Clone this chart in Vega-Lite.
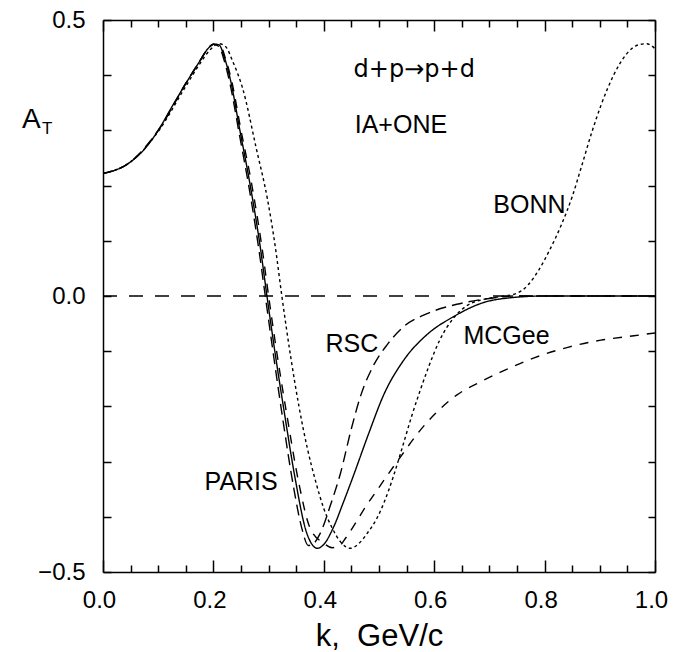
{
  "$schema": "https://vega.github.io/schema/vega-lite/v6.json",
  "width": 552,
  "height": 552,
  "autosize": {"type": "none"},
  "padding": {"left": 103, "top": 20, "right": 36, "bottom": 80},
  "background": "white",
  "config": {"view": {"stroke": null}, "font": "Liberation Sans", "axis": {"grid": false}},
  "datasets": {
    "curves": [
      {"model": "PARIS", "k": 0, "A": 0.222}, {"model": "PARIS", "k": 0.025, "A": 0.229}, {"model": "PARIS", "k": 0.05, "A": 0.243},
      {"model": "PARIS", "k": 0.075, "A": 0.266}, {"model": "PARIS", "k": 0.1, "A": 0.3}, {"model": "PARIS", "k": 0.125, "A": 0.343},
      {"model": "PARIS", "k": 0.15, "A": 0.385}, {"model": "PARIS", "k": 0.175, "A": 0.425}, {"model": "PARIS", "k": 0.19, "A": 0.448},
      {"model": "PARIS", "k": 0.2, "A": 0.456}, {"model": "PARIS", "k": 0.21, "A": 0.455}, {"model": "PARIS", "k": 0.22, "A": 0.432},
      {"model": "PARIS", "k": 0.231, "A": 0.391}, {"model": "PARIS", "k": 0.248, "A": 0.3}, {"model": "PARIS", "k": 0.265, "A": 0.21},
      {"model": "PARIS", "k": 0.285, "A": 0.088}, {"model": "PARIS", "k": 0.297, "A": 0.0}, {"model": "PARIS", "k": 0.312, "A": -0.105},
      {"model": "PARIS", "k": 0.328, "A": -0.208}, {"model": "PARIS", "k": 0.348, "A": -0.33}, {"model": "PARIS", "k": 0.368, "A": -0.426},
      {"model": "PARIS", "k": 0.378, "A": -0.449}, {"model": "PARIS", "k": 0.388, "A": -0.457}, {"model": "PARIS", "k": 0.4, "A": -0.45},
      {"model": "PARIS", "k": 0.418, "A": -0.418}, {"model": "PARIS", "k": 0.435, "A": -0.375}, {"model": "PARIS", "k": 0.452, "A": -0.33},
      {"model": "PARIS", "k": 0.481, "A": -0.25}, {"model": "PARIS", "k": 0.509, "A": -0.178}, {"model": "PARIS", "k": 0.545, "A": -0.116},
      {"model": "PARIS", "k": 0.588, "A": -0.069}, {"model": "PARIS", "k": 0.634, "A": -0.038}, {"model": "PARIS", "k": 0.689, "A": -0.012},
      {"model": "PARIS", "k": 0.74, "A": -0.003}, {"model": "PARIS", "k": 0.8, "A": 0}, {"model": "PARIS", "k": 0.9, "A": 0},
      {"model": "PARIS", "k": 1.0, "A": 0},

      {"model": "RSC", "k": 0, "A": 0.222}, {"model": "RSC", "k": 0.05, "A": 0.243}, {"model": "RSC", "k": 0.1, "A": 0.3},
      {"model": "RSC", "k": 0.15, "A": 0.385}, {"model": "RSC", "k": 0.175, "A": 0.425}, {"model": "RSC", "k": 0.19, "A": 0.448},
      {"model": "RSC", "k": 0.2, "A": 0.456}, {"model": "RSC", "k": 0.21, "A": 0.452}, {"model": "RSC", "k": 0.22, "A": 0.425},
      {"model": "RSC", "k": 0.23, "A": 0.385}, {"model": "RSC", "k": 0.247, "A": 0.293}, {"model": "RSC", "k": 0.264, "A": 0.2},
      {"model": "RSC", "k": 0.283, "A": 0.08}, {"model": "RSC", "k": 0.294, "A": 0.0}, {"model": "RSC", "k": 0.31, "A": -0.115},
      {"model": "RSC", "k": 0.326, "A": -0.225}, {"model": "RSC", "k": 0.345, "A": -0.345}, {"model": "RSC", "k": 0.36, "A": -0.42},
      {"model": "RSC", "k": 0.372, "A": -0.452}, {"model": "RSC", "k": 0.382, "A": -0.448}, {"model": "RSC", "k": 0.393, "A": -0.431},
      {"model": "RSC", "k": 0.413, "A": -0.376}, {"model": "RSC", "k": 0.43, "A": -0.322}, {"model": "RSC", "k": 0.45, "A": -0.24},
      {"model": "RSC", "k": 0.467, "A": -0.18}, {"model": "RSC", "k": 0.491, "A": -0.124}, {"model": "RSC", "k": 0.515, "A": -0.088},
      {"model": "RSC", "k": 0.544, "A": -0.056}, {"model": "RSC", "k": 0.587, "A": -0.032}, {"model": "RSC", "k": 0.641, "A": -0.015},
      {"model": "RSC", "k": 0.689, "A": -0.006}, {"model": "RSC", "k": 0.75, "A": 0}, {"model": "RSC", "k": 1.0, "A": 0},

      {"model": "MCGee", "k": 0, "A": 0.222}, {"model": "MCGee", "k": 0.05, "A": 0.243}, {"model": "MCGee", "k": 0.1, "A": 0.3},
      {"model": "MCGee", "k": 0.15, "A": 0.385}, {"model": "MCGee", "k": 0.175, "A": 0.425}, {"model": "MCGee", "k": 0.19, "A": 0.448},
      {"model": "MCGee", "k": 0.2, "A": 0.456}, {"model": "MCGee", "k": 0.212, "A": 0.454}, {"model": "MCGee", "k": 0.222, "A": 0.43},
      {"model": "MCGee", "k": 0.233, "A": 0.39}, {"model": "MCGee", "k": 0.25, "A": 0.3}, {"model": "MCGee", "k": 0.268, "A": 0.21},
      {"model": "MCGee", "k": 0.288, "A": 0.088}, {"model": "MCGee", "k": 0.3, "A": 0.0}, {"model": "MCGee", "k": 0.316, "A": -0.11},
      {"model": "MCGee", "k": 0.333, "A": -0.215}, {"model": "MCGee", "k": 0.355, "A": -0.34}, {"model": "MCGee", "k": 0.375, "A": -0.42},
      {"model": "MCGee", "k": 0.4, "A": -0.448}, {"model": "MCGee", "k": 0.415, "A": -0.456}, {"model": "MCGee", "k": 0.428, "A": -0.453},
      {"model": "MCGee", "k": 0.44, "A": -0.438}, {"model": "MCGee", "k": 0.457, "A": -0.412}, {"model": "MCGee", "k": 0.475, "A": -0.383},
      {"model": "MCGee", "k": 0.495, "A": -0.354}, {"model": "MCGee", "k": 0.515, "A": -0.325}, {"model": "MCGee", "k": 0.54, "A": -0.29},
      {"model": "MCGee", "k": 0.57, "A": -0.249}, {"model": "MCGee", "k": 0.605, "A": -0.21}, {"model": "MCGee", "k": 0.64, "A": -0.18},
      {"model": "MCGee", "k": 0.689, "A": -0.153}, {"model": "MCGee", "k": 0.72, "A": -0.138}, {"model": "MCGee", "k": 0.781, "A": -0.112},
      {"model": "MCGee", "k": 0.842, "A": -0.093}, {"model": "MCGee", "k": 0.902, "A": -0.08}, {"model": "MCGee", "k": 0.962, "A": -0.072},
      {"model": "MCGee", "k": 1.0, "A": -0.067},

      {"model": "BONN", "k": 0, "A": 0.222}, {"model": "BONN", "k": 0.05, "A": 0.243}, {"model": "BONN", "k": 0.1, "A": 0.298},
      {"model": "BONN", "k": 0.15, "A": 0.38}, {"model": "BONN", "k": 0.175, "A": 0.42}, {"model": "BONN", "k": 0.195, "A": 0.447},
      {"model": "BONN", "k": 0.21, "A": 0.457}, {"model": "BONN", "k": 0.222, "A": 0.452}, {"model": "BONN", "k": 0.235, "A": 0.425},
      {"model": "BONN", "k": 0.253, "A": 0.376}, {"model": "BONN", "k": 0.278, "A": 0.266}, {"model": "BONN", "k": 0.298, "A": 0.175},
      {"model": "BONN", "k": 0.312, "A": 0.09}, {"model": "BONN", "k": 0.324, "A": 0.0}, {"model": "BONN", "k": 0.34, "A": -0.11},
      {"model": "BONN", "k": 0.355, "A": -0.2}, {"model": "BONN", "k": 0.37, "A": -0.275}, {"model": "BONN", "k": 0.385, "A": -0.335},
      {"model": "BONN", "k": 0.4, "A": -0.385}, {"model": "BONN", "k": 0.414, "A": -0.418}, {"model": "BONN", "k": 0.43, "A": -0.445},
      {"model": "BONN", "k": 0.448, "A": -0.457}, {"model": "BONN", "k": 0.465, "A": -0.447}, {"model": "BONN", "k": 0.48, "A": -0.428},
      {"model": "BONN", "k": 0.495, "A": -0.405}, {"model": "BONN", "k": 0.51, "A": -0.372}, {"model": "BONN", "k": 0.526, "A": -0.327},
      {"model": "BONN", "k": 0.545, "A": -0.265}, {"model": "BONN", "k": 0.56, "A": -0.215}, {"model": "BONN", "k": 0.575, "A": -0.17},
      {"model": "BONN", "k": 0.59, "A": -0.128}, {"model": "BONN", "k": 0.61, "A": -0.08}, {"model": "BONN", "k": 0.635, "A": -0.04},
      {"model": "BONN", "k": 0.66, "A": -0.017}, {"model": "BONN", "k": 0.69, "A": -0.006}, {"model": "BONN", "k": 0.72, "A": -0.001},
      {"model": "BONN", "k": 0.75, "A": 0.005}, {"model": "BONN", "k": 0.77, "A": 0.02}, {"model": "BONN", "k": 0.79, "A": 0.048},
      {"model": "BONN", "k": 0.81, "A": 0.085}, {"model": "BONN", "k": 0.83, "A": 0.128}, {"model": "BONN", "k": 0.85, "A": 0.18},
      {"model": "BONN", "k": 0.867, "A": 0.235}, {"model": "BONN", "k": 0.885, "A": 0.295}, {"model": "BONN", "k": 0.902, "A": 0.345},
      {"model": "BONN", "k": 0.925, "A": 0.4}, {"model": "BONN", "k": 0.948, "A": 0.438}, {"model": "BONN", "k": 0.97, "A": 0.455},
      {"model": "BONN", "k": 0.985, "A": 0.457}, {"model": "BONN", "k": 1.0, "A": 0.448}
    ],
    "zero": [{"k": 0, "A": 0}, {"k": 1, "A": 0}],
    "labels": [
      {"label": "IA+ONE", "k": 0.456, "A": 0.31},
      {"label": "BONN", "k": 0.707, "A": 0.165},
      {"label": "RSC", "k": 0.403, "A": -0.087},
      {"label": "MCGee", "k": 0.653, "A": -0.073},
      {"label": "PARIS", "k": 0.184, "A": -0.337}
    ],
    "reaction": [{"label": "d+p→p+d", "k": 0.454, "A": 0.409}],
    "ytitle": [{"label": "A", "k": -0.13, "A": 0.319}],
    "ysub": [{"label": "T", "k": -0.101, "A": 0.303}]
  },
  "layer": [
    {
      "data": {"name": "curves"},
      "mark": {"type": "line", "interpolate": "monotone", "strokeWidth": 1.4, "color": "black", "clip": true},
      "encoding": {
        "x": {
          "field": "k", "type": "quantitative",
          "scale": {"domain": [0, 1], "nice": false, "zero": false},
          "axis": {
            "orient": "bottom",
            "values": [0, 0.05, 0.1, 0.15, 0.2, 0.25, 0.3, 0.35, 0.4, 0.45, 0.5, 0.55, 0.6, 0.65, 0.7, 0.75, 0.8, 0.85, 0.9, 0.95, 1.0],
            "labelExpr": "abs(round(datum.value*20))%4==0 ? format(datum.value,'.1f') : ''",
            "labelOverlap": false, "labelFlush": false,
            "labelFontSize": 24, "labelColor": "black", "labelFont": "Liberation Sans",
            "labelPadding": 28, "labelOffset": -4,
            "tickSize": {"condition": {"test": "abs(round(datum.value*20))%4==0", "value": -12}, "value": -7},
            "tickColor": "black", "tickWidth": 1.5,
            "domainColor": "black", "domainWidth": 1.5,
            "title": "k,\u00a0\u00a0GeV/c", "titleFontSize": 31, "titleFont": "Liberation Sans",
            "titleFontWeight": "normal", "titleColor": "black", "titlePadding": 4
          }
        },
        "y": {
          "field": "A", "type": "quantitative",
          "scale": {"domain": [-0.5, 0.5], "nice": false, "zero": false},
          "axis": {
            "orient": "left",
            "values": [-0.5, -0.4, -0.3, -0.2, -0.1, 0, 0.1, 0.2, 0.3, 0.4, 0.5],
            "labelExpr": "abs(round(datum.value*10))%5==0 ? format(datum.value,'.1f') : ''",
            "labelOverlap": false, "labelFlush": false,
            "labelFontSize": 24, "labelColor": "black", "labelFont": "Liberation Sans",
            "labelPadding": 26,
            "tickSize": -8, "tickColor": "black", "tickWidth": 1.5,
            "domainColor": "black", "domainWidth": 1.5,
            "title": null
          }
        },
        "strokeDash": {
          "field": "model", "type": "nominal",
          "scale": {"domain": ["PARIS", "RSC", "MCGee", "BONN"], "range": [[1, 0], [11, 6], [9, 8], [3, 3]]},
          "legend": null
        }
      }
    },
    {
      "data": {"name": "zero"},
      "mark": {"type": "line", "strokeDash": [14, 12], "strokeWidth": 1.4, "color": "black"},
      "encoding": {
        "x": {
          "field": "k", "type": "quantitative",
          "scale": {"domain": [0, 1], "nice": false, "zero": false},
          "axis": {
            "orient": "top",
            "values": [0, 0.05, 0.1, 0.15, 0.2, 0.25, 0.3, 0.35, 0.4, 0.45, 0.5, 0.55, 0.6, 0.65, 0.7, 0.75, 0.8, 0.85, 0.9, 0.95, 1.0],
            "labels": false,
            "tickSize": {"condition": {"test": "abs(round(datum.value*20))%4==0", "value": -11}, "value": -7},
            "tickColor": "black", "tickWidth": 1.5,
            "domainColor": "black", "domainWidth": 1.5,
            "title": null
          }
        },
        "y": {
          "field": "A", "type": "quantitative",
          "scale": {"domain": [-0.5, 0.5], "nice": false, "zero": false},
          "axis": {
            "orient": "right",
            "values": [-0.5, -0.4, -0.3, -0.2, -0.1, 0, 0.1, 0.2, 0.3, 0.4, 0.5],
            "labels": false,
            "tickSize": -7, "tickColor": "black", "tickWidth": 1.5,
            "domainColor": "black", "domainWidth": 1.5,
            "title": null
          }
        }
      }
    },
    {
      "data": {"name": "labels"},
      "mark": {"type": "text", "align": "left", "baseline": "middle", "fontSize": 25, "font": "Liberation Sans", "color": "black"},
      "encoding": {
        "x": {"field": "k", "type": "quantitative", "axis": null},
        "y": {"field": "A", "type": "quantitative", "axis": null},
        "text": {"field": "label", "type": "nominal"}
      }
    },
    {
      "data": {"name": "reaction"},
      "mark": {"type": "text", "align": "left", "baseline": "middle", "fontSize": 24, "font": "DejaVu Sans", "color": "black"},
      "encoding": {
        "x": {"field": "k", "type": "quantitative", "axis": null},
        "y": {"field": "A", "type": "quantitative", "axis": null},
        "text": {"field": "label", "type": "nominal"}
      }
    },
    {
      "data": {"name": "ytitle"},
      "mark": {"type": "text", "align": "center", "baseline": "middle", "fontSize": 28, "font": "Liberation Sans", "color": "black"},
      "encoding": {
        "x": {"field": "k", "type": "quantitative", "axis": null},
        "y": {"field": "A", "type": "quantitative", "axis": null},
        "text": {"field": "label", "type": "nominal"}
      }
    },
    {
      "data": {"name": "ysub"},
      "mark": {"type": "text", "align": "center", "baseline": "middle", "fontSize": 17, "font": "Liberation Sans", "color": "black"},
      "encoding": {
        "x": {"field": "k", "type": "quantitative", "axis": null},
        "y": {"field": "A", "type": "quantitative", "axis": null},
        "text": {"field": "label", "type": "nominal"}
      }
    }
  ],
  "resolve": {"axis": {"x": "independent", "y": "independent"}}
}
